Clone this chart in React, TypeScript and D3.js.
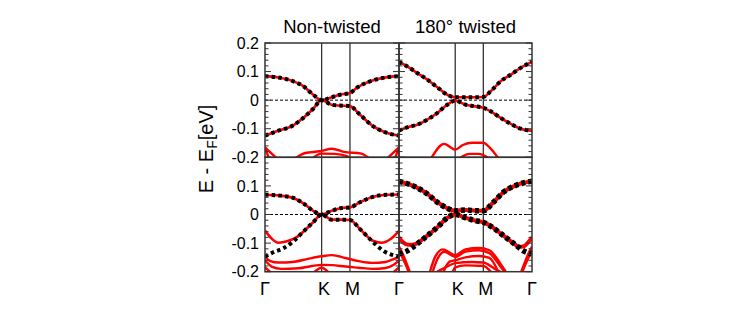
import React, { useEffect, useRef } from "react";
import * as d3 from "d3";

type Band = [number, number][];

// path coordinate along Γ-K-M-Γ, normalised to 1
const K_POINT = 0.4226;
const M_POINT = 0.634;
const kTicks = [0, K_POINT, M_POINT, 1];
const kLabels = ["Γ", "K", "M", "Γ"];
const titles = ["Non-twisted", "180° twisted"];
const topRowTicks = [0.2, 0.1, 0, -0.1, -0.2];
const bottomRowTicks = [0.1, 0, -0.1, -0.2];

// ---- top-left: non-twisted (upper row)
const tlUpper: Band = [
	[0, 0.084], [0.087, 0.08], [0.211, 0.066], [0.286, 0.049], [0.36, 0.019], [0.4226, 0],
	[0.498, 0.01], [0.56, 0.019], [0.634, 0.025], [0.684, 0.043], [0.784, 0.066], [0.881, 0.078], [1, 0.084],
];
const tlLower: Band = [
	[0, -0.124], [0.087, -0.109], [0.211, -0.088], [0.286, -0.062], [0.36, -0.03], [0.4226, 0],
	[0.498, -0.016], [0.56, -0.019], [0.634, -0.021], [0.709, -0.051], [0.806, -0.091], [0.9, -0.113], [1, -0.124],
];
const tlRedA: Band = [[0, -0.165], [0.04, -0.183], [0.09, -0.205]];
const tlRedB: Band = [[0, -0.165], [0.015, -0.185], [0.03, -0.205]];
const tlRedC: Band = [[0.91, -0.205], [0.96, -0.183], [1, -0.165]];
const tlRedD: Band = [[0.97, -0.205], [0.985, -0.185], [1, -0.165]];
const tlRedE: Band = [[0.22, -0.205], [0.3, -0.185], [0.41, -0.179], [0.5, -0.17], [0.59, -0.181], [0.72, -0.187], [0.78, -0.205]];
const tlRedF: Band = [[0.35, -0.205], [0.4226, -0.187], [0.52, -0.188], [0.61, -0.196], [0.65, -0.205]];

// ---- top-right: 180° twisted (upper row)
const trUpper: Band = [
	[0, 0.134], [0.062, 0.118], [0.137, 0.095], [0.213, 0.072], [0.288, 0.045], [0.363, 0.019], [0.4226, 0.01],
	[0.53, 0.01], [0.634, 0.011], [0.689, 0.031], [0.764, 0.066], [0.84, 0.089], [0.915, 0.113], [1, 0.134],
];
const trLower: Band = [
	[0, -0.107], [0.062, -0.095], [0.137, -0.086], [0.213, -0.068], [0.288, -0.045], [0.363, -0.016], [0.4226, -0.002],
	[0.502, -0.016], [0.564, -0.021], [0.634, -0.027], [0.689, -0.039], [0.764, -0.062], [0.84, -0.083], [0.915, -0.1], [1, -0.107],
];
const trRedA: Band = [[0.24, -0.205], [0.34, -0.153], [0.4226, -0.173], [0.48, -0.157], [0.55, -0.149], [0.634, -0.149], [0.68, -0.165], [0.75, -0.205]];
const trRedB: Band = [[0.45, -0.205], [0.53, -0.188], [0.6, -0.188], [0.68, -0.205]];

// ---- bottom-left: non-twisted (lower row)
const blUpper: Band = [
	[0, 0.069], [0.112, 0.066], [0.211, 0.058], [0.286, 0.039], [0.36, 0.013], [0.4226, 0],
	[0.498, 0.013], [0.572, 0.023], [0.634, 0.025], [0.709, 0.043], [0.808, 0.062], [0.908, 0.069], [1, 0.07],
];
const blLowerDots: Band = [
	[0, -0.147], [0.062, -0.132], [0.137, -0.118], [0.211, -0.094], [0.286, -0.06], [0.36, -0.027], [0.4226, 0],
	[0.498, -0.018], [0.572, -0.018], [0.634, -0.019], [0.709, -0.051], [0.808, -0.097], [0.883, -0.127], [1, -0.147],
];
const blLowerRed: Band = [
	[0, -0.056], [0.045, -0.082], [0.1, -0.099], [0.17, -0.093], [0.24, -0.078], [0.286, -0.06], [0.36, -0.027], [0.4226, 0],
	[0.498, -0.018], [0.572, -0.018], [0.634, -0.019], [0.709, -0.051], [0.76, -0.075], [0.8, -0.091], [0.87, -0.099], [0.94, -0.085], [1, -0.057],
];
const blRedA: Band = [
	[0, -0.147], [0.04, -0.163], [0.1, -0.168], [0.22, -0.165], [0.32, -0.155], [0.4226, -0.146], [0.5, -0.142],
	[0.6, -0.152], [0.7, -0.163], [0.8, -0.169], [0.9, -0.166], [0.96, -0.156], [1, -0.147],
];
const blRedB: Band = [
	[0, -0.16], [0.05, -0.182], [0.12, -0.19], [0.25, -0.188], [0.35, -0.18], [0.4226, -0.176], [0.5, -0.177],
	[0.6, -0.182], [0.7, -0.186], [0.8, -0.19], [0.9, -0.187], [0.96, -0.176], [1, -0.16],
];
const blRedC: Band = [[0.36, -0.205], [0.4226, -0.186], [0.48, -0.205]];
const blRedD: Band = [[0, -0.185], [0.05, -0.205]];
const blRedE: Band = [[0.95, -0.205], [1, -0.185]];

// ---- bottom-right: 180° twisted (lower row)
const brUpper: Band = [
	[0, 0.116], [0.113, 0.099], [0.213, 0.072], [0.288, 0.043], [0.363, 0.022], [0.4226, 0.013],
	[0.502, 0.016], [0.577, 0.013], [0.634, 0.013], [0.71, 0.043], [0.785, 0.078], [0.885, 0.103], [1, 0.116],
];
const brLowerDots: Band = [
	[0, -0.138], [0.062, -0.127], [0.137, -0.103], [0.213, -0.074], [0.288, -0.045], [0.363, -0.012], [0.4226, 0],
	[0.502, -0.012], [0.577, -0.022], [0.634, -0.027], [0.71, -0.047], [0.785, -0.074], [0.86, -0.1], [0.935, -0.127], [1, -0.138],
];
const brLowerRed: Band = [
	[0, -0.08], [0.03, -0.097], [0.07, -0.106], [0.12, -0.104], [0.16, -0.093], [0.213, -0.074], [0.288, -0.045], [0.363, -0.012], [0.4226, 0],
	[0.502, -0.012], [0.577, -0.022], [0.634, -0.027], [0.71, -0.047], [0.785, -0.074], [0.86, -0.1], [0.9, -0.113], [0.94, -0.111], [0.97, -0.098], [1, -0.08],
];
const brRedS1: Band = [[0, -0.112], [0.03, -0.14], [0.06, -0.175], [0.085, -0.205]];
const brRedS2: Band = [[0, -0.125], [0.03, -0.155], [0.055, -0.18], [0.075, -0.205]];
const brRedS3: Band = [[0.915, -0.205], [0.94, -0.175], [0.97, -0.14], [1, -0.112]];
const brRedS4: Band = [[0.925, -0.205], [0.945, -0.18], [0.97, -0.155], [1, -0.125]];
const brRedD: Band = [[0.23, -0.205], [0.27, -0.15], [0.33, -0.122], [0.4226, -0.142], [0.5, -0.122], [0.6, -0.117], [0.68, -0.125], [0.76, -0.17], [0.81, -0.205]];
const brRedE: Band = [[0.25, -0.205], [0.29, -0.155], [0.34, -0.13], [0.4226, -0.148], [0.5, -0.13], [0.6, -0.125], [0.68, -0.135], [0.76, -0.18], [0.8, -0.205]];
const brRedF: Band = [[0.33, -0.205], [0.38, -0.165], [0.4226, -0.16], [0.5, -0.15], [0.6, -0.145], [0.68, -0.152], [0.75, -0.205]];
const brRedG: Band = [[0.27, -0.205], [0.35, -0.185], [0.4226, -0.17], [0.55, -0.166], [0.634, -0.168], [0.72, -0.19], [0.78, -0.205]];
const brRedH: Band = [[0.4, -0.205], [0.4226, -0.185], [0.5, -0.178], [0.634, -0.18], [0.7, -0.205]];

interface Panel {
	row: number;
	col: number;
	redThin: Band[];
	redMain: Band[];
	redDotted: Band[];
	dotOnly: Band[];
	thick: boolean;
}

const panels: Panel[] = [
	{ row: 0, col: 0, redThin: [tlRedA, tlRedB, tlRedC, tlRedD, tlRedE, tlRedF], redMain: [], redDotted: [tlUpper, tlLower], dotOnly: [], thick: false },
	{ row: 0, col: 1, redThin: [trRedA, trRedB], redMain: [], redDotted: [trUpper, trLower], dotOnly: [], thick: false },
	{ row: 1, col: 0, redThin: [blRedA, blRedB, blRedC, blRedD, blRedE], redMain: [blLowerRed], redDotted: [blUpper], dotOnly: [blLowerDots], thick: false },
	{
		row: 1,
		col: 1,
		redThin: [brRedS1, brRedS2, brRedS3, brRedS4, brRedD, brRedE, brRedF, brRedG, brRedH],
		redMain: [brLowerRed],
		redDotted: [brUpper],
		dotOnly: [brLowerDots],
		thick: true,
	},
];

export default function App() {
	const svgRef = useRef<SVGSVGElement>(null);

	useEffect(() => {
		const svg = d3.select(svgRef.current);
		svg.selectAll("*").remove();

		const colX = [265, 399, 532];
		const rowY = [43, 157.3, 271.7];
		const defs = svg.append("defs");

		panels.forEach((p, i) => {
			const x = d3.scaleLinear().domain([0, 1]).range([colX[p.col], colX[p.col + 1]]);
			const y = d3.scaleLinear().domain([-0.2, 0.2]).range([rowY[p.row + 1], rowY[p.row]]);
			const id = `clip-${i}`;
			defs
				.append("clipPath")
				.attr("id", id)
				.append("rect")
				.attr("x", x(0))
				.attr("y", y(0.2))
				.attr("width", x(1) - x(0))
				.attr("height", y(-0.2) - y(0.2));

			const g = svg.append("g");

			// high-symmetry lines
			g.selectAll("line.sym")
				.data([K_POINT, M_POINT])
				.join("line")
				.attr("class", "sym")
				.attr("x1", (d) => x(d))
				.attr("x2", (d) => x(d))
				.attr("y1", y(0.2))
				.attr("y2", y(-0.2))
				.attr("stroke", "#333")
				.attr("stroke-width", 1.3);

			// Fermi level
			g.append("line")
				.attr("x1", x(0))
				.attr("x2", x(1))
				.attr("y1", y(0))
				.attr("y2", y(0))
				.attr("stroke", "#000")
				.attr("stroke-width", 1)
				.attr("stroke-dasharray", "3,2");

			const line = d3
				.line<[number, number]>()
				.x((d) => x(d[0]))
				.y((d) => y(d[1]))
				.curve(d3.curveMonotoneX);

			const cg = g.append("g").attr("clip-path", `url(#${id})`).attr("fill", "none");
			const redW = p.thick ? 4 : 2.6;
			const dotW = p.thick ? 5.5 : 4;

			cg.selectAll("path.thin")
				.data(p.redThin)
				.join("path")
				.attr("class", "thin")
				.attr("d", line)
				.attr("stroke", "#ff0000")
				.attr("stroke-width", 2.4);

			cg.selectAll("path.red")
				.data([...p.redMain, ...p.redDotted])
				.join("path")
				.attr("class", "red")
				.attr("d", line)
				.attr("stroke", "#ff0000")
				.attr("stroke-width", redW)
				.attr("stroke-linejoin", "round");

			cg.selectAll("path.dot")
				.data([...p.redDotted, ...p.dotOnly])
				.join("path")
				.attr("class", "dot")
				.attr("d", line)
				.attr("stroke", "#000")
				.attr("stroke-width", dotW)
				.attr("stroke-dasharray", p.thick ? "4,3" : "3.5,3.2");

			// frame
			g.append("rect")
				.attr("x", x(0))
				.attr("y", y(0.2))
				.attr("width", x(1) - x(0))
				.attr("height", y(-0.2) - y(0.2))
				.attr("fill", "none")
				.attr("stroke", "#333")
				.attr("stroke-width", 1.5);

			// inward ticks on both sides, minor every 0.02
			const tickVals = d3.range(-10, 11).map((j) => ({ v: j * 0.02, major: j % 5 === 0 }));
			[x(0), x(1)].forEach((edge, side) => {
				const dir = side === 0 ? 1 : -1;
				g.selectAll(`line.tick${side}`)
					.data(tickVals)
					.join("line")
					.attr("class", `tick${side}`)
					.attr("x1", edge)
					.attr("x2", (d) => edge + dir * (d.major ? 6 : 3.5))
					.attr("y1", (d) => y(d.v))
					.attr("y2", (d) => y(d.v))
					.attr("stroke", "#333")
					.attr("stroke-width", 1);
			});

			if (p.col === 0) {
				const labels = p.row === 0 ? topRowTicks : bottomRowTicks;
				g.selectAll("text.ylab")
					.data(labels)
					.join("text")
					.attr("class", "ylab")
					.attr("x", x(0) - 6)
					.attr("y", (d) => y(d))
					.attr("dy", "0.36em")
					.attr("text-anchor", "end")
					.attr("font-size", 16)
					.text((d) => (d === 0 ? "0" : d3.format(".1f")(d).replace("−", "-")));
			}

			if (p.row === 0) {
				g.append("text")
					.attr("x", (x(0) + x(1)) / 2)
					.attr("y", 33)
					.attr("text-anchor", "middle")
					.attr("font-size", 18.5)
					.text(titles[p.col]);
			}

			if (p.row === 1) {
				g.selectAll("text.klab")
					.data(kTicks)
					.join("text")
					.attr("class", "klab")
					.attr("x", (d, j) => x(d) + (j === 1 || j === 2 ? 2.5 : 0))
					.attr("y", 295)
					.attr("text-anchor", "middle")
					.attr("font-size", 18)
					.text((d, j) => (p.col === 1 && j === 0 ? "" : kLabels[j]));
			}
		});

		const yl = svg
			.append("text")
			.attr("transform", "translate(213,149) rotate(-90)")
			.attr("text-anchor", "middle")
			.attr("font-size", 20);
		yl.append("tspan").text("E - E");
		yl.append("tspan").attr("dy", 4).attr("font-size", 14).text("F");
		yl.append("tspan").attr("dy", -4).text("[eV]");
	}, []);

	return (
		<svg
			ref={svgRef}
			width={748}
			height={311}
			fontFamily="'Liberation Sans', Arial, sans-serif"
			style={{ position: "absolute", left: 0, top: 0, background: "white" }}
		/>
	);
}
